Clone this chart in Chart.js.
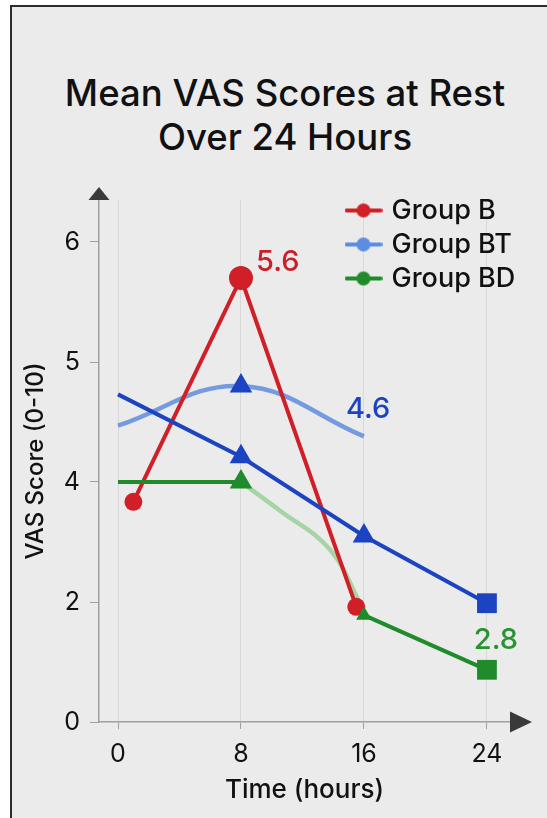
<!DOCTYPE html>
<html>
<head>
<meta charset="utf-8">
<script src="https://cdn.jsdelivr.net/npm/chart.js@4.4.0/dist/chart.umd.min.js"></script>
<style>
  html, body { margin: 0; padding: 0; background: #fff; }
  #page { position: relative; width: 547px; height: 818px; overflow: hidden; }
  #frame { position: absolute; left: 10px; top: 5px; right: 0; bottom: 0; background: #ebebeb;
           border-left: 2px solid #2b2b2b; border-top: 2px solid #2b2b2b; }
  #title { position: absolute; left: 0; width: 570px; top: 71px; text-align: center;
           font: 500 36.5px Inter, sans-serif; line-height: 44px; color: #111; }
  canvas { position: absolute; left: 0; top: 0; }
</style>
</head>
<body>
<div id="page">
  <div id="frame"></div>
  <div id="title">Mean VAS Scores at Rest<br>Over 24 Hours</div>
  <canvas id="vasChart" width="547" height="818"></canvas>
</div>
<script>
// Axis ticks. The y axis is not evenly spaced: 0, 2, 4, 5, 6 sit one step apart
const xTicks = [0, 8, 16, 24];
const yTicks = [0, 2, 4, 5, 6];

// Group B (red)
const groupBHours = [1, 8, 15.5];
const groupB = [3.67, 5.7, 1.92];

// Group BT (light blue curve)
const groupBTHours = [0, 8, 16];
const groupBT = [4.47, 4.8, 4.38];

// dark blue line, not in the legend
const blueLineHours = [0, 8, 16, 24];
const blueLine = [4.73, 4.21, 3.1, 1.98];

// Group BD (green)
const groupBDHours = [0, 8, 16, 24];
const groupBD = [4.0, 4.0, 1.78, 0.87];

// faded green curve between 8 and 16 h
const bdFadeHours = [8, 10.5, 13.8, 15.9];
const bdFade = [4.0, 3.53, 2.87, 1.9];

// numbers written next to some points
const noteText = ['5.6', '4.6', '2.8'];

const legendNames = ['Group B', 'Group BT', 'Group BD'];

const red = '#d01f26';
const lightBlue = 'rgba(96, 140, 222, 0.85)';
const legendBlue = '#5b8de3';
const darkBlue = '#1b43c2';
const green = '#1f8b2a';
const lightGreen = '#a6d4a6';
const legendColors = [red, legendBlue, green];

// map a score onto the uneven axis (one step between each tick)
function toPos(v) {
    for (let i = 1; i < yTicks.length; i++) {
        if (v <= yTicks[i] || i === yTicks.length - 1) {
            return (i - 1) + (v - yTicks[i - 1]) / (yTicks[i] - yTicks[i - 1]);
        }
    }
}

function points(hours, values) {
    return hours.map((h, i) => ({ x: h, y: toPos(values[i]) }));
}

// little line + dot image for the legend
function legendIcon(color) {
    const c = document.createElement('canvas');
    c.width = 38;
    c.height = 16;
    const g = c.getContext('2d');
    g.strokeStyle = color;
    g.lineWidth = 4;
    g.lineCap = 'round';
    g.beginPath();
    g.moveTo(2, 8);
    g.lineTo(36, 8);
    g.stroke();
    g.fillStyle = color;
    g.beginPath();
    g.arc(19, 8, 7, 0, Math.PI * 2);
    g.fill();
    return c;
}

// labels next to points
const notes = [
    { ds: 0, idx: 1, dx: 15, dy: -16, align: 'left', color: '#c91f25' },
    { ds: 1, idx: 2, dx: -18, dy: -27, align: 'left', color: darkBlue },
    { ds: 3, idx: 3, dx: 9, dy: -30, align: 'center', color: '#27952f' },
];

const notesPlugin = {
    id: 'notes',
    afterDatasetsDraw(chart) {
        const ctx = chart.ctx;
        ctx.save();
        ctx.font = '500 29px Inter, sans-serif';
        ctx.textBaseline = 'middle';
        notes.forEach((n, i) => {
            const el = chart.getDatasetMeta(n.ds).data[n.idx];
            ctx.fillStyle = n.color;
            ctx.textAlign = n.align;
            ctx.fillText(noteText[i], el.x + n.dx, el.y + n.dy);
        });
        ctx.restore();
    }
};

// arrow heads on the axes
const arrowsPlugin = {
    id: 'arrows',
    afterDraw(chart) {
        const { ctx, chartArea: a } = chart;
        ctx.save();
        ctx.fillStyle = '#3a3a3a';
        ctx.beginPath();
        ctx.moveTo(a.left - 10.5, a.top);
        ctx.lineTo(a.left + 10.5, a.top);
        ctx.lineTo(a.left, a.top - 13);
        ctx.closePath();
        ctx.fill();
        ctx.beginPath();
        ctx.moveTo(a.right, a.bottom - 10.5);
        ctx.lineTo(a.right, a.bottom + 10.5);
        ctx.lineTo(a.right + 22, a.bottom);
        ctx.closePath();
        ctx.fill();
        ctx.restore();
    }
};

// put the legend in the top right corner of the plot
const legendCorner = {
    id: 'legendCorner',
    beforeDraw(chart) {
        const lg = chart.legend, a = chart.chartArea;
        lg.left = a.right - 168;
        lg.right = lg.left + lg.width;
        lg.top = a.top - 10;
        lg.bottom = lg.top + lg.height;
    }
};

const tickFont = { family: 'Inter', size: 25 };

const ctx = document.getElementById('vasChart').getContext('2d');
new Chart(ctx, {
    type: 'line',
    data: {
        datasets: [
            {
                label: 'Group B',
                data: points(groupBHours, groupB),
                borderColor: red,
                backgroundColor: red,
                borderWidth: 4,
                pointStyle: 'circle',
                pointRadius: [9, 12, 9],
                pointBorderWidth: 0,
                order: 3,
            },
            {
                label: 'Group BT',
                data: points(groupBTHours, groupBT),
                borderColor: lightBlue,
                backgroundColor: darkBlue,
                borderWidth: 4.5,
                tension: 0.4,
                pointStyle: 'triangle',
                pointRadius: [0, 13, 0],
                pointBorderWidth: 0,
                order: 5,
            },
            {
                label: 'Group BT line',
                data: points(blueLineHours, blueLine),
                borderColor: darkBlue,
                backgroundColor: darkBlue,
                borderWidth: 4,
                pointStyle: ['triangle', 'triangle', 'triangle', 'rect'],
                pointRadius: [0, 13, 13, 14],
                pointBorderWidth: 0,
                order: 2,
            },
            {
                label: 'Group BD',
                data: points(groupBDHours, groupBD),
                borderColor: green,
                backgroundColor: green,
                borderWidth: 4,
                segment: {
                    borderColor: c => (c.p0DataIndex === 1 ? 'transparent' : green)
                },
                pointStyle: ['circle', 'triangle', 'triangle', 'rect'],
                pointRadius: [0, 13, 9, 14],
                pointBorderWidth: 0,
                order: 1,
            },
            {
                label: 'Group BD curve',
                data: points(bdFadeHours, bdFade),
                borderColor: lightGreen,
                borderWidth: 4.5,
                tension: 0.4,
                pointRadius: 0,
                order: 4,
            },
        ]
    },
    options: {
        responsive: false,
        animation: false,
        devicePixelRatio: 1,
        layout: { padding: { left: 12, right: 37, top: 200, bottom: 12 } },
        scales: {
            x: {
                type: 'linear',
                min: -1.236,
                max: 25.5,
                afterBuildTicks: s => { s.ticks = xTicks.map(v => ({ value: v })); },
                afterFit: s => { s.height = 84; },
                ticks: { font: tickFont, color: '#111', padding: 10, maxRotation: 0 },
                grid: { color: '#d8d8d8', lineWidth: 1, drawTicks: true, tickLength: 7, tickColor: '#a0a0a0' },
                border: { color: '#a0a0a0', width: 1.5 },
                title: { display: true, text: 'Time (hours)', font: { family: 'Inter', size: 26, weight: 500 }, color: '#111', padding: 0 }
            },
            y: {
                type: 'linear',
                min: 0,
                max: 4.35,
                afterBuildTicks: s => { s.ticks = yTicks.map((v, i) => ({ value: i })); },
                afterFit: s => { s.width = 87; },
                ticks: {
                    font: tickFont, color: '#111', padding: 10,
                    callback: v => yTicks[Math.round(v)]
                },
                grid: { drawOnChartArea: false, drawTicks: true, tickLength: 9, tickColor: '#a0a0a0' },
                border: { color: '#a0a0a0', width: 1.5 },
                title: { display: true, text: 'VAS Score (0-10)', font: { family: 'Inter', size: 24, weight: 500 }, color: '#111', padding: 9 }
            }
        },
        plugins: {
            title: { display: false },
            tooltip: { enabled: false },
            legend: {
                position: 'chartArea',
                align: 'start',
                labels: {
                    usePointStyle: true,
                    pointStyleWidth: 29,
                    padding: 7,
                    color: '#111',
                    font: { family: 'Inter', size: 27, weight: 500 },
                    generateLabels: () => legendNames.map((name, i) => ({
                        text: name,
                        pointStyle: legendIcon(legendColors[i]),
                        fillStyle: legendColors[i],
                        strokeStyle: legendColors[i],
                        lineWidth: 0,
                        fontColor: '#111',
                        hidden: false,
                        datasetIndex: i
                    }))
                }
            }
        }
    },
    plugins: [legendCorner, notesPlugin, arrowsPlugin]
});
</script>
</body>
</html>
